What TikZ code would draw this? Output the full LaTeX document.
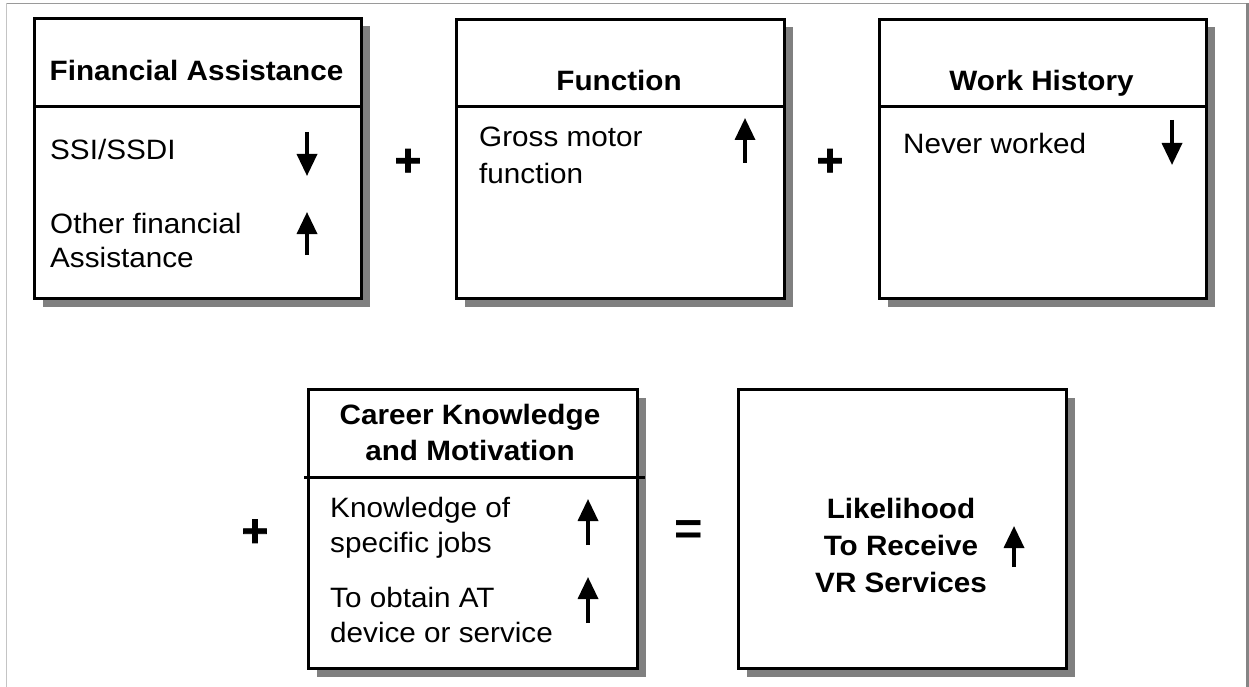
\documentclass[tikz,border=0pt]{standalone}
\usepackage{fontspec}
\setmainfont{Liberation Sans}[FakeStretch=1.06]
\newfontfamily\heavysym{Liberation Sans}[FakeBold=1.6, BoldFont={Liberation Sans Bold}, BoldFeatures={FakeBold=1.6}]
\usetikzlibrary{arrows.meta,shadows}
\definecolor{shd}{HTML}{808080}
\definecolor{frametop}{HTML}{9A9A9A}
\definecolor{frameleft}{HTML}{C4C4C4}
\definecolor{frameright}{HTML}{858585}
\tikzset{
  box/.style={draw=black, line width=3pt, fill=white, inner sep=0pt, anchor=north west,
    drop shadow={shadow xshift=8pt, shadow yshift=-8pt, fill=shd, opacity=1}},
  divider/.style={line width=3pt},
  ttl/.style={font=\fontsize{28}{36}\selectfont\bfseries, inner sep=0pt, anchor=base},
  body/.style={font=\fontsize{28}{35}\selectfont, inner sep=0pt, anchor=base west},
  trend/.style={line width=3.5pt, -{Triangle[width=20pt,length=22pt]}},
  sym/.style={font=\heavysym\fontsize{46}{46}\selectfont\bfseries, inner sep=0pt, anchor=center},
  eqsym/.style={font=\fontsize{46}{46}\selectfont\bfseries, inner sep=0pt, anchor=center}
}
\begin{document}
\begin{tikzpicture}[x=1pt,y=-1pt]
\useasboundingbox (0,0) rectangle (1249,687);
\fill[white] (0,0) rectangle (1249,687);
% frame
\draw[frametop, line width=1.5pt] (6,3.5) -- (1249,3.5);
\draw[frameleft, line width=1pt] (6.5,3) -- (6.5,687);
\draw[frameright, line width=3pt] (1247.2,3) -- (1247.2,687);

% boxes
\node[box, minimum width=327pt, minimum height=280pt] (fa) at (33,17) {};
\node[box, minimum width=328pt, minimum height=279pt] (fn) at (455,18) {};
\node[box, minimum width=327pt, minimum height=279pt] (wh) at (878,18) {};
\node[box, minimum width=329pt, minimum height=279pt] (ck) at (307,388) {};
\node[box, minimum width=328pt, minimum height=279pt] (lk) at (737,388) {};

% dividers
\draw[divider] ([yshift=-90pt]fa.north west) -- ([yshift=-90pt]fa.north east);
\draw[divider] ([yshift=-89pt]fn.north west) -- ([yshift=-89pt]fn.north east);
\draw[divider] ([yshift=-89pt]wh.north west) -- ([yshift=-89pt]wh.north east);
\draw[divider] ([xshift=-3pt,yshift=-89pt]ck.north west) -- ([xshift=6pt,yshift=-89pt]ck.north east);

% titles
\node[ttl] (faT) at (196.5,81) {Financial Assistance};
\node[ttl] (fnT) at (619,91) {Function};
\node[ttl] (whT) at (1041.5,91) {Work History};
\node[ttl] (ckT1) at (470,424) {Career Knowledge};
\node[ttl] (ckT2) at (470,460) {and Motivation};
\node[ttl] (lkT1) at (901,518) {Likelihood};
\node[ttl] (lkT2) at (901,555) {To Receive};
\node[ttl] (lkT3) at (901,592) {VR Services};

% body texts
\node[body] (fa1) at (50,160) {SSI/SSDI};
\node[body] (fa2) at (50,233) {Other financial};
\node[body] (fa3) at (50,267) {Assistance};
\node[body] (fn1) at (479,147) {Gross motor};
\node[body] (fn2) at (479,183) {function};
\node[body] (wh1) at (903,154) {Never worked};
\node[body] (ck1) at (330,517) {Knowledge of};
\node[body] (ck2) at (330,552) {specific jobs};
\node[body] (ck3) at (330,607) {To obtain AT};
\node[body] (ck4) at (330,642) {device or service};

% trend arrows
\draw[trend] (307,132) -- (307,176);
\draw[trend] (307,255) -- (307,212);
\draw[trend] (745,163) -- (745,118);
\draw[trend] (1172,120) -- (1172,165);
\draw[trend] (588,545) -- (588,499);
\draw[trend] (588,623) -- (588,577);
\draw[trend] (1014,567) -- (1014,526);

% operators
\node[sym] (p1) at (408,162.5) {+};
\node[sym] (p2) at (830,162.5) {+};
\node[sym] (p3) at (255,533) {+};
\node[eqsym] (eq) at (689,532.5) {=};
\end{tikzpicture}
\end{document}
